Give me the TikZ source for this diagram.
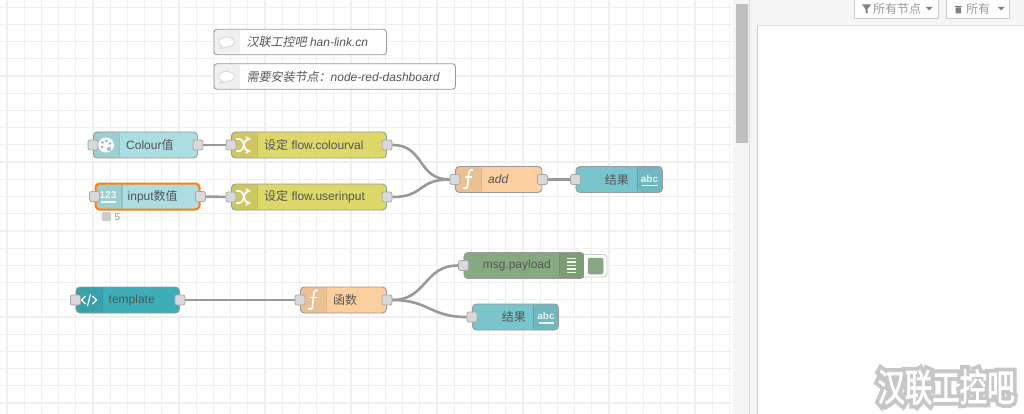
\documentclass[tikz,border=0pt]{standalone}
\usepackage{fontspec}
\setmainfont{Liberation Sans}
\newfontfamily\cjk{Noto Sans CJK SC}
\newfontfamily\cjkslant[FakeSlant=0.2]{Noto Sans CJK SC}
\newfontfamily\cjkmark[FakeStretch=0.72,FakeBold=2]{Noto Sans CJK SC}
\newfontfamily\cjkhalo[FakeStretch=0.72,FakeBold=22]{Noto Sans CJK SC}
\usetikzlibrary{positioning}

\definecolor{gridgrey}{HTML}{F0F0F0}
\definecolor{wiregrey}{HTML}{999999}
\definecolor{portgrey}{HTML}{D9D9D9}
\definecolor{labelgrey}{HTML}{555555}
\definecolor{inputblue}{HTML}{ABDDE3}
\definecolor{changeyellow}{HTML}{DED76A}
\definecolor{funcorange}{HTML}{FDCF9F}
\definecolor{textteal}{HTML}{79C5CE}
\definecolor{templateteal}{HTML}{3DADB7}
\definecolor{debuggreen}{HTML}{87A980}
\definecolor{selectorange}{HTML}{FF7F0E}

\tikzset{
  flownode/.style={draw=wiregrey, line width=0.9, rounded corners=4, minimum height=26, inner sep=0, anchor=west},
  iconleft/.style={flownode, path picture={
    \fill[black, opacity=0.07] (path picture bounding box.north west) rectangle ([xshift=26]path picture bounding box.south west);
    \draw[black, opacity=0.1] ([xshift=26]path picture bounding box.north west) -- ([xshift=26]path picture bounding box.south west);}},
  iconright/.style={flownode, path picture={
    \fill[black, opacity=0.07] (path picture bounding box.north east) rectangle ([xshift=-25]path picture bounding box.south east);
    \draw[black, opacity=0.1] ([xshift=-25]path picture bounding box.north east) -- ([xshift=-25]path picture bounding box.south east);}},
  commentnode/.style={draw=wiregrey, line width=0.9, rounded corners=3, fill=white, minimum height=25.5, inner sep=0, anchor=west, path picture={
    \fill[gridgrey] (path picture bounding box.north west) rectangle ([xshift=26]path picture bounding box.south west);}},
  port/.style={draw=wiregrey!85!white, fill=portgrey, line width=0.8, rounded corners=2, minimum size=10, inner sep=0},
  wire/.style={draw=wiregrey, line width=2.6},
  flowlabel/.style={text=labelgrey, font=\fontsize{12}{14}\selectfont, inner sep=0},
  barlabel/.style={text=wiregrey, font=\fontsize{12}{14}\selectfont\cjk, inner sep=0},
  icontext/.style={text=white, opacity=0.85, font=\fontsize{10}{10}\selectfont\bfseries, inner sep=0},
  pics/swapicon/.style={code={
    \draw[white, line width=1.6, -stealth] (-8,-6) -- (-4,-6) .. controls (0,-6) and (0,6) .. (7,6);
    \draw[white, line width=1.6, -stealth] (-8,6) -- (-4,6) .. controls (0,6) and (0,-6) .. (7,-6);
  }},
  pics/funcicon/.style={code={
    \draw[white, line width=1.6] (5,-9.5) .. controls (1.5,-10.5) and (0.8,-8) .. (0.5,-4) -- (-0.3,5) .. controls (-0.6,9.5) and (-3,10) .. (-5,8.5);
    \draw[white, line width=1.4] (-3.5,-2.5) -- (4,-2.5);
  }},
  pics/paletteicon/.style={code={
    \fill[white] (0,0) ellipse (8 and 7.5);
    \fill[inputblue!80!black] (-3.5,-2.5) circle (1.3) (0.5,-4) circle (1.3) (4,-1.5) circle (1.3) (-4,2) circle (1.3);
    \fill[inputblue!90!black] (3,4) circle (2.2);
  }},
  pics/codeicon/.style={code={
    \draw[white, line width=1.2] (-3.5,-4) -- (-7.5,0) -- (-3.5,4);
    \draw[white, line width=1.2] (3.5,-4) -- (7.5,0) -- (3.5,4);
    \draw[white, line width=1.2] (1.5,-6) -- (-1.5,6);
  }},
  pics/bubbleicon/.style={code={
    \draw[portgrey, fill=white, line width=0.9] (-4,4.5) .. controls (-7,3) and (-8,1.5) .. (-8,0) .. controls (-8,-3) and (-4,-5) .. (0,-5) .. controls (4,-5) and (8,-3) .. (8,0) .. controls (8,3) and (4,5) .. (0,5) .. controls (-2,5) and (-5,7) .. (-7,6.5) .. controls (-6,6) and (-5,5.5) .. cycle;
  }}
}

\begin{document}
\begin{tikzpicture}[x=1pt, y=-1pt]
\useasboundingbox (0,0) rectangle (1024,414);

% Canvas grid
\fill[white] (0,0) rectangle (1024,414);
\begin{scope}
\clip (0,0) rectangle (733,414);
\draw[gridgrey, line width=1.2, shift={(6.9,7.3)}, step=17.2pt] (-7,-8) grid (730,410);
\end{scope}

% Scrollbar and sidebar
\fill[gridgrey!70!white] (733,0) rectangle (757,414);
\fill[black!25] (736,4.5) rectangle (747.5,143);
\draw[black!15] (749,0) -- (749,414);
\draw[black!20] (757,0) -- (757,414);
\fill[gridgrey!70!white] (757,0) rectangle (1024,25);
\draw[black!12] (757,25.5) -- (1024,25.5);
\draw[black!20, fill=white] (854,-3) rectangle (938,18);
\draw[black!20, fill=white] (946,-3) rectangle (1009,18);
\fill[black!50] (862,4.5) -- (871,4.5) -- (867.5,9) -- (867.5,13.5) -- (865.5,13.5) -- (865.5,9) -- cycle;
\node[barlabel, anchor=west] (filterlabel) at (873,9) {所有节点};
\fill[black!50] (926,7) -- (932.5,7) -- (929.2,10.5) -- cycle;
\fill[black!50] (955,6) rectangle (961.5,6.8) (955.6,7.4) rectangle (961,13.5);
\node[barlabel, anchor=west] (clearlabel) at (966,9) {所有};
\fill[black!50] (998,7) -- (1004.5,7) -- (1001.2,10.5) -- cycle;

% Comments
\node[commentnode, minimum width=172.5] (hancomment) at (213.5,42) {};
\node[commentnode, minimum width=241.5] (dashcomment) at (213.5,76.5) {};
\pic at (226.5,42) {bubbleicon};
\pic at (226.5,76.5) {bubbleicon};
\node[flowlabel, anchor=west] (hanlabel) at (246.5,42) {{\cjkslant 汉联工控吧} \textit{han-link.cn}};
\node[flowlabel, anchor=west] (dashlabel) at (246.5,76.5) {{\cjkslant 需要安装节点：}\textit{node-red-dashboard}};

% Upper flow
\node[iconleft, fill=inputblue, minimum width=104] (colour) at (93,145) {};
\node[iconleft, fill=inputblue, minimum width=104, draw=selectorange, line width=2] (number) at (94.5,196.5) {};
\node[iconleft, fill=changeyellow, minimum width=155] (setcolour) at (231,145) {};
\node[iconleft, fill=changeyellow, minimum width=155] (setinput) at (231,197) {};
\node[iconleft, fill=funcorange, minimum width=86.5] (add) at (455,179.5) {};
\node[iconright, fill=textteal, minimum width=86.5] (result) at (575.5,179.5) {};

\pic at (106,145) {paletteicon};
\node[icontext] (numbericon) at (108,195.5) {123};
\draw[white, opacity=0.85, line width=1.1] (100.5,202) -- (116,202);
\pic at (244,145) {swapicon};
\pic at (244,197) {swapicon};
\pic at (468,179.5) {funcicon};
\node[icontext] (resulticon) at (649.5,178.5) {abc};
\draw[white, opacity=0.85, line width=1.1] (642,185.5) -- (657.5,185.5);

\node[flowlabel, anchor=west] (colourlabel) at (126,145) {Colour{\cjk 值}};
\node[flowlabel, anchor=west] (numberlabel) at (127.5,196.5) {input{\cjk 数值}};
\node[flowlabel, anchor=west] (setcolourlabel) at (264,145) {{\cjk 设定} flow.colourval};
\node[flowlabel, anchor=west] (setinputlabel) at (264,197) {{\cjk 设定} flow.userinput};
\node[flowlabel, anchor=west] (addlabel) at (488,179.5) {\textit{add}};
\node[flowlabel, anchor=east] (resultlabel) at (629,179.5) {\cjk 结果};

\node[port] (colour-in) at (colour.west) {};
\node[port] (colour-out) at (colour.east) {};
\node[port] (number-in) at (number.west) {};
\node[port] (number-out) at (number.east) {};
\node[port] (setcolour-in) at (setcolour.west) {};
\node[port] (setcolour-out) at (setcolour.east) {};
\node[port] (setinput-in) at (setinput.west) {};
\node[port] (setinput-out) at (setinput.east) {};
\node[port] (add-in) at (add.west) {};
\node[port] (add-out) at (add.east) {};
\node[port] (result-in) at (result.west) {};

\draw[wire] (colour-out) -- (setcolour-in);
\draw[wire] (number-out) -- (setinput-in);
\draw[wire] (setcolour-out) .. controls +(38,0) and +(-38,0) .. (add-in);
\draw[wire] (setinput-out) .. controls +(38,0) and +(-38,0) .. (add-in);
\draw[wire] (add-out) -- (result-in);

% Status
\fill[black!20, rounded corners=1.5] (101.5,212) rectangle (111,221);
\node[flowlabel, text=wiregrey, font=\fontsize{10}{10}\selectfont, anchor=west] (statuslabel) at (114.5,217) {5};

% Lower flow
\node[iconleft, fill=templateteal, minimum width=103.5] (template) at (75.5,300) {};
\node[iconleft, fill=funcorange, minimum width=86] (func) at (300,300) {};
\node[iconright, fill=debuggreen, minimum width=120.5] (debug) at (463.5,265.5) {};
\node[iconright, fill=textteal, minimum width=86] (chart) at (472,317) {};

\draw[black!20, fill=white, line width=0.9, rounded corners=3] (584,254.5) -- (607,254.5) -- (607,277) -- (584,277);
\fill[debuggreen, rounded corners=2, draw=wiregrey, line width=0.5] (588,258) rectangle (603,274);

\pic at (89,300) {codeicon};
\pic at (313,300) {funcicon};
\draw[white!85!debuggreen, line width=1.3] (567,258.5) -- (576,258.5) (567,262) -- (576,262) (567,265.5) -- (576,265.5) (567,269) -- (576,269) (567,272.5) -- (576,272.5);
\node[icontext] (charticon) at (546,316) {abc};
\draw[white, opacity=0.85, line width=1.1] (538.5,323) -- (554,323);

\node[flowlabel, anchor=west] (templatelabel) at (108.5,300) {template};
\node[flowlabel, anchor=west] (funclabel) at (333,300) {\cjk 函数};
\node[flowlabel, anchor=east] (debuglabel) at (551,265.5) {msg.payload};
\node[flowlabel, anchor=east] (chartlabel) at (526,317) {\cjk 结果};

\node[port] (template-in) at (template.west) {};
\node[port] (template-out) at (template.east) {};
\node[port] (func-in) at (func.west) {};
\node[port] (func-out) at (func.east) {};
\node[port] (debug-in) at (debug.west) {};
\node[port] (chart-in) at (chart.west) {};

\draw[wire] (template-out) -- (func-in);
\draw[wire] (func-out) .. controls +(40,0) and +(-40,0) .. (debug-in);
\draw[wire] (func-out) .. controls +(42,0) and +(-42,0) .. (chart-in);

% Watermark
\node[inner sep=0, text=black!22, font=\fontsize{38}{38}\selectfont\cjkhalo] (markhalo) at (946,387) {汉联工控吧};
\node[inner sep=0, text=white, font=\fontsize{38}{38}\selectfont\cjkmark] (marktext) at (946,387) {汉联工控吧};

\end{tikzpicture}
\end{document}
